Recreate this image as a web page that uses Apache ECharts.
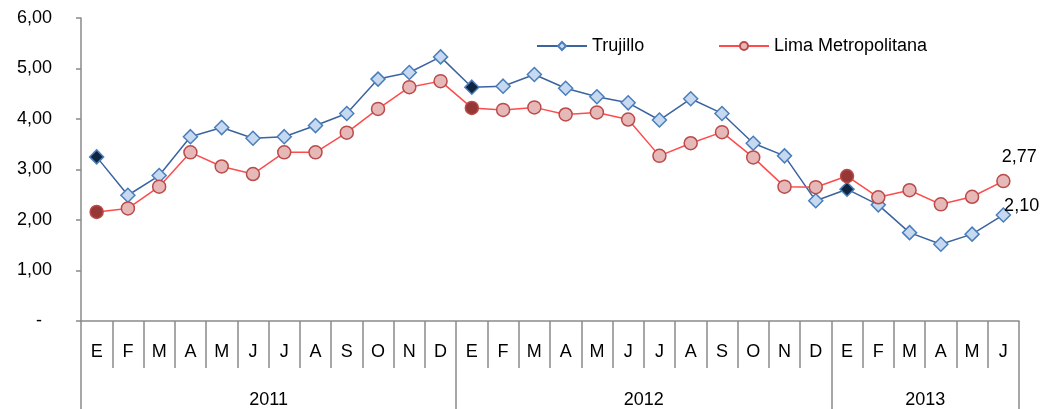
<!DOCTYPE html>
<html>
<head>
<meta charset="utf-8">
<script src="https://cdn.jsdelivr.net/npm/echarts@6/dist/echarts.min.js"></script>
<style>
html,body{margin:0;padding:0;background:#fff;}
#c{width:1042px;height:409px;}
</style>
</head>
<body>
<div id="c"></div>
<script>
var months = ['E','F','M','A','M','J','J','A','S','O','N','D','E','F','M','A','M','J','J','A','S','O','N','D','E','F','M','A','M','J'];
var years = ['2011','2012','2013'];
var yearCenters = [6, 18, 27];
var yearBounds = [0, 12, 24, 30];
var trujillo = [3.25,2.49,2.88,3.65,3.83,3.62,3.65,3.87,4.11,4.79,4.92,5.23,4.63,4.65,4.88,4.61,4.44,4.32,3.98,4.40,4.11,3.52,3.27,2.38,2.61,2.30,1.75,1.52,1.72,2.10];
var lima = [2.16,2.23,2.66,3.34,3.06,2.91,3.34,3.34,3.73,4.20,4.63,4.75,4.22,4.18,4.23,4.09,4.13,3.99,3.27,3.52,3.74,3.24,2.66,2.65,2.87,2.45,2.59,2.31,2.46,2.77];
var highlightIdx = [0, 12, 24];

var FONT = 'Liberation Sans, Arial, sans-serif';
var AX = '#8a8a8a';

function buildData(arr, darkFill, lastLabel) {
  return arr.map(function (v, i) {
    var o = { value: v };
    if (highlightIdx.indexOf(i) >= 0) o.itemStyle = { color: darkFill };
    if (i === arr.length - 1) o.label = lastLabel;
    return o;
  });
}
function fmt(v) { return v.toFixed(2).replace('.', ','); }

var chart = echarts.init(document.getElementById('c'), null, { renderer: 'canvas' });
chart.setOption({
  animation: false,
  backgroundColor: '#fff',
  textStyle: { fontFamily: FONT },
  grid: { left: 81, right: 23, top: 18, bottom: 88, containLabel: false },
  legend: [
    { data: ['Trujillo'], left: 531, top: 32, itemWidth: 50, itemHeight: 10, itemGap: 6,
      textStyle: { fontSize: 18, color: '#000', fontFamily: FONT } },
    { data: ['Lima Metropolitana'], left: 713, top: 32, itemWidth: 50, itemHeight: 10, itemGap: 6,
      textStyle: { fontSize: 18, color: '#000', fontFamily: FONT } }
  ],
  xAxis: [
    {
      type: 'category', data: months, boundaryGap: true, position: 'bottom',
      axisLine: { show: true, lineStyle: { color: AX, width: 1.5 } },
      axisTick: { show: true, length: 47, interval: 0, lineStyle: { color: AX, width: 1.5 } },
      axisLabel: { interval: 0, margin: 22, fontSize: 18, color: '#000', fontFamily: FONT },
      splitLine: { show: false }
    },
    {
      type: 'value', min: 0, max: 30, position: 'bottom',
      axisLine: { show: false },
      axisTick: { show: true, length: 88, customValues: yearBounds, lineStyle: { color: AX, width: 1.5 } },
      axisLabel: { show: true, customValues: yearCenters, margin: 70, fontSize: 18, color: '#000', fontFamily: FONT,
        formatter: function (v) { var k = yearCenters.indexOf(v); return k >= 0 ? years[k] : ''; } },
      splitLine: { show: false }
    }
  ],
  yAxis: {
    type: 'value', min: 0, max: 6, interval: 1,
    axisLine: { show: true, lineStyle: { color: AX, width: 1.5 } },
    axisTick: { show: true, length: 5, lineStyle: { color: AX, width: 1.5 } },
    axisLabel: { margin: 29, fontSize: 18, color: '#000', fontFamily: FONT,
      formatter: function (v) { return v === 0 ? '-  ' : fmt(v); } },
    splitLine: { show: false }
  },
  series: [
    {
      name: 'Trujillo', type: 'line', xAxisIndex: 0,
      data: buildData(trujillo, '#10253f', { show: true, position: 'right', offset: [-12, -9], fontSize: 18, color: '#000',
        formatter: function (p) { return fmt(p.value); } }),
      symbol: 'diamond', symbolSize: 14, showAllSymbol: true,
      lineStyle: { color: '#3a63a0', width: 1.5 },
      itemStyle: { color: '#c6d9f1', borderColor: '#4a7ebb', borderWidth: 1.5 },
      z: 2
    },
    {
      name: 'Lima Metropolitana', type: 'line', xAxisIndex: 0,
      data: buildData(lima, '#953735', { show: true, position: 'top', offset: [16, -3], fontSize: 18, color: '#000',
        formatter: function (p) { return fmt(p.value); } }),
      symbol: 'circle', symbolSize: 13, showAllSymbol: true,
      lineStyle: { color: '#ff4b4b', width: 1.5 },
      itemStyle: { color: '#e6b9b8', borderColor: '#b94b4a', borderWidth: 1.5 },
      z: 3
    }
  ]
});
</script>
</body>
</html>
